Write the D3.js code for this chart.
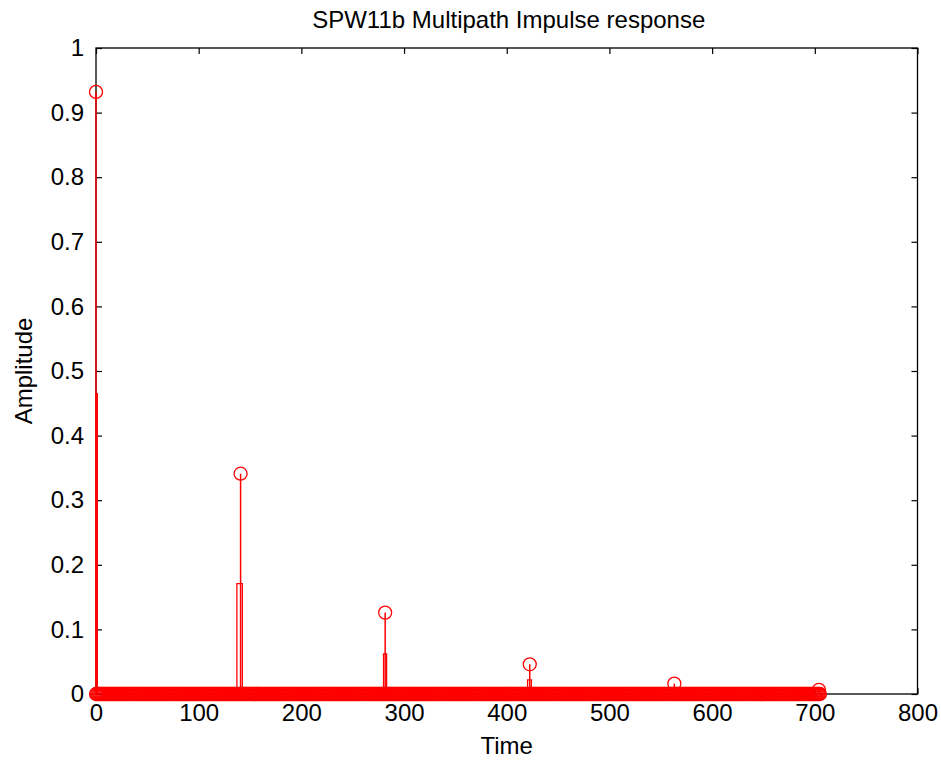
<!DOCTYPE html>
<html>
<head>
<meta charset="utf-8">
<script src="https://cdn.jsdelivr.net/npm/d3@7"></script>
<style>
  html, body { margin: 0; padding: 0; background: #fff; }
  svg { display: block; }
  text { font-family: "Liberation Sans", Arial, sans-serif; fill: #000; }
</style>
</head>
<body>
<svg id="chart" width="941" height="763"></svg>
<script>
// ---- data ----
const titleText = "SPW11b Multipath Impulse response";
const xLabel = "Time";
const yLabel = "Amplitude";
const xTicks = [0, 100, 200, 300, 400, 500, 600, 700, 800];
const yTicks = [0, 0.1, 0.2, 0.3, 0.4, 0.5, 0.6, 0.7, 0.8, 0.9, 1];
// main echo taps (stem with circle markers)
const peakTimes = [0, 140.8, 281.6, 422.4, 563.2, 704];
const peakValues = [0.932, 0.341, 0.126, 0.046, 0.016, 0.0065];
// secondary narrow pulses at half height
const pulseStart = [0, 137.2, 280, 420.3];
const pulseEnd = [1.3, 142.5, 283, 424];
const pulseValues = [0.465, 0.171, 0.062, 0.022];
// zero-valued sample grid (all samples on baseline)
const sampleStart = 0, sampleEnd = 705;
const sampleTimes = d3.range(sampleStart, sampleEnd + 1, 1);

// ---- layout ----
const svg = d3.select("#chart");
const L = 96, R = 917.5, T = 48, B = 694;
const x = d3.scaleLinear().domain([0, 800]).range([L, R]);
const y = d3.scaleLinear().domain([0, 1]).range([B, T]);
const red = "#ff0000";
const fs = 24;

svg.append("rect").attr("width", 941).attr("height", 763).attr("fill", "#fff");

// clip
svg.append("clipPath").attr("id", "clip")
  .append("rect").attr("x", L - 10).attr("y", T - 10).attr("width", R - L + 20).attr("height", B - T + 20);

// frame
svg.append("rect").attr("x", L).attr("y", T).attr("width", R - L).attr("height", B - T)
  .attr("fill", "none").attr("stroke", "#000").attr("stroke-width", 1.3);

// ticks (inside, all four sides)
const tl = 6;
const xAxisB = d3.axisBottom(x).tickValues(xTicks).tickSizeInner(-tl).tickSizeOuter(0).tickFormat(d3.format("d")).tickPadding(10);
const xAxisT = d3.axisTop(x).tickValues(xTicks).tickSizeInner(-tl).tickSizeOuter(0).tickFormat("");
const yAxisL = d3.axisLeft(y).tickValues(yTicks).tickSizeInner(-tl).tickSizeOuter(0).tickFormat(d => d === 0 ? "0" : d === 1 ? "1" : d3.format(".1f")(d)).tickPadding(12);
const yAxisR = d3.axisRight(y).tickValues(yTicks).tickSizeInner(-tl).tickSizeOuter(0).tickFormat("");

function styleAxis(g) {
  g.select(".domain").remove();
  g.selectAll(".tick line").attr("stroke", "#000").attr("stroke-width", 1.2);
  g.selectAll(".tick text").attr("font-size", fs).attr("font-family", "Liberation Sans, Arial, sans-serif").attr("fill", "#000");
}
svg.append("g").attr("transform", `translate(0,${B})`).call(xAxisB).call(styleAxis);
svg.append("g").attr("transform", `translate(0,${T})`).call(xAxisT).call(styleAxis);
svg.append("g").attr("transform", `translate(${L},0)`).call(yAxisL).call(styleAxis);
svg.append("g").attr("transform", `translate(${R},0)`).call(yAxisR).call(styleAxis);

const plot = svg.append("g").attr("clip-path", "url(#clip)");

// secondary pulses
plot.selectAll("path.pulse").data(pulseValues).enter().append("path")
  .attr("class", "pulse")
  .attr("d", (v, i) => `M${x(pulseStart[i])},${y(0)}L${x(pulseStart[i])},${y(v)}L${x(pulseEnd[i])},${y(v)}L${x(pulseEnd[i])},${y(0)}`)
  .attr("fill", "none").attr("stroke", red).attr("stroke-width", 1.3);

// stems
plot.selectAll("line.stem").data(peakValues).enter().append("line")
  .attr("class", "stem")
  .attr("x1", (v, i) => x(peakTimes[i])).attr("x2", (v, i) => x(peakTimes[i]))
  .attr("y1", y(0)).attr("y2", v => y(v))
  .attr("stroke", red).attr("stroke-width", 1.5);

// baseline sample markers
plot.selectAll("circle.samp").data(sampleTimes).enter().append("circle")
  .attr("class", "samp")
  .attr("cx", t => x(t)).attr("cy", y(0)).attr("r", 6.5)
  .attr("fill", "none").attr("stroke", red).attr("stroke-width", 1.3);

// peak markers
plot.selectAll("circle.peak").data(peakValues).enter().append("circle")
  .attr("class", "peak")
  .attr("cx", (v, i) => x(peakTimes[i])).attr("cy", v => y(v)).attr("r", 6.5)
  .attr("fill", "none").attr("stroke", red).attr("stroke-width", 1.3);

// title and labels
svg.append("text").attr("x", (L + R) / 2 + 2).attr("y", 28).attr("text-anchor", "middle")
  .attr("font-size", fs).text(titleText);
svg.append("text").attr("x", (L + R) / 2).attr("y", 754).attr("text-anchor", "middle")
  .attr("font-size", fs).text(xLabel);
svg.append("text").attr("transform", `translate(32,${(T + B) / 2}) rotate(-90)`).attr("text-anchor", "middle")
  .attr("font-size", fs).text(yLabel);
</script>
</body>
</html>
